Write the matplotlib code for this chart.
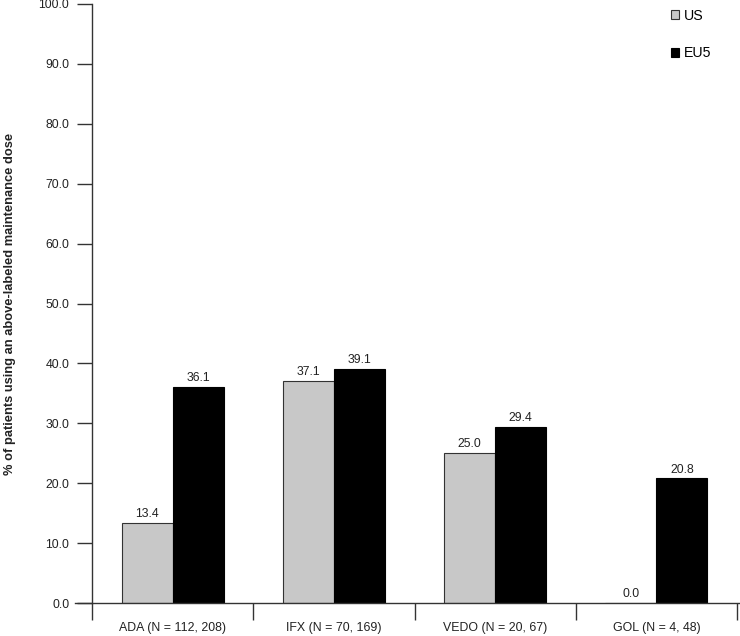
import numpy as np
import matplotlib
matplotlib.use('Agg')
import matplotlib.pyplot as plt

# set font
matplotlib.rc('font', family=['Liberation Sans', 'DejaVu Sans'], size=8)

############################################################################
# data
############################################################################
categories = ['ADA (N = 112, 208)', 'IFX (N = 70, 169)',
              'VEDO (N = 20, 67)', 'GOL (N = 4, 48)']
us = [13.4, 37.1, 25.0, 0.0]
eu5 = [36.1, 39.1, 29.4, 20.8]
series_names = ['US', 'EU5']
yticks = np.arange(0, 101, 10)

############################################################################
# plot
############################################################################
fig = plt.figure(figsize=(7.4, 6.36), dpi=100)
ax = fig.add_axes([92/740, 1 - 603/636, (737 - 92)/740, (603 - 4)/636])

x = np.arange(len(categories)) + 0.5
w = 0.316
b1 = ax.bar(x - w/2, us, w, color='#c8c8c8', edgecolor='#333333', lw=0.8, label=series_names[0])
b2 = ax.bar(x + w/2, eu5, w, color='black', edgecolor='black', lw=0.8, label=series_names[1])

for bars, vals in [(b1, us), (b2, eu5)]:
    for rect, v in zip(bars, vals):
        ax.annotate('%.1f' % v, (rect.get_x() + rect.get_width()/2, v),
                    xytext=(0, 2), textcoords='offset points',
                    ha='center', va='bottom', fontsize=8.8, color='#222222')

ax.set_xlim(0, 4)
ax.set_ylim(0, 100)
ax.set_yticks(yticks)
ax.set_yticklabels(['%.1f' % t for t in yticks], fontsize=8.8, color='#222222')
ax.tick_params(axis='y', length=10.8, width=1, direction='out', pad=5.5, color='#333333')

# category labels at centres, separators as minor ticks
ax.set_xticks(x)
ax.set_xticklabels(categories, fontsize=8.9, color='#222222')
ax.set_xticks(np.arange(0, 5), minor=True)
ax.tick_params(axis='x', which='major', length=0, pad=14)
ax.tick_params(axis='x', which='minor', length=12.2, width=1, direction='out', color='#333333')

for s in ['top', 'right', 'bottom']:
    ax.spines[s].set_visible(False)
ax.spines['left'].set_color('#333333')
ax.spines['left'].set_linewidth(1)
ax.axhline(0, xmin=-0.027, xmax=1.005, clip_on=False, color='#333333', lw=1)

ax.set_ylabel('% of patients using an above-labeled maintenance dose',
              fontweight='bold', fontsize=9.3, labelpad=16, color='#222222')

ax.legend(loc='upper left', bbox_to_anchor=(668/740, 1 - 6/636),
          bbox_transform=fig.transFigure, frameon=False, fontsize=10.2,
          handlelength=0.6, handleheight=0.6, handletextpad=0.3,
          labelspacing=1.65, borderaxespad=0, borderpad=0.2)

fig.savefig('out.png', dpi=100)
